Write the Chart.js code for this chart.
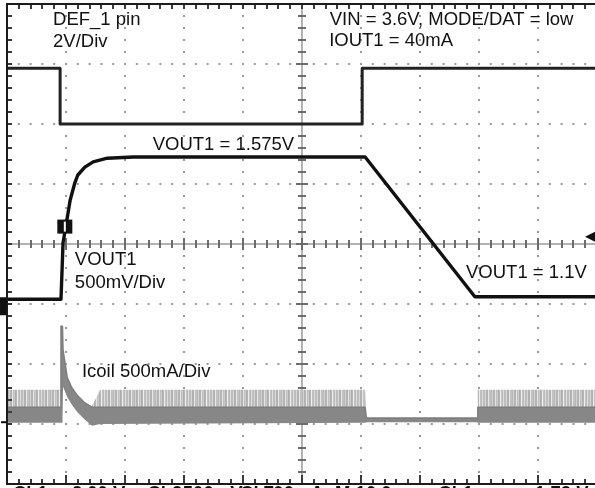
<!DOCTYPE html>
<html>
<head>
<meta charset="utf-8">
<script src="https://cdn.jsdelivr.net/npm/chart.js@4/dist/chart.umd.min.js"></script>
<style>
  html, body { margin: 0; padding: 0; background: #fff; overflow: hidden; }
  #wrap { width: 600px; height: 488px; }
</style>
</head>
<body>
<div id="wrap"><canvas id="scope" width="600" height="488"></canvas></div>
<script>
// Horizontal axis: 10 time divisions. Vertical axis: 8 divisions, 0 at screen centre.

// DEF_1 pin (2 V/div)
const DEF1_T = [0, 0.90, 0.90, 6.02, 6.02, 10];
const DEF1_V = [2.93, 2.93, 2.00, 2.00, 2.93, 2.93];

// VOUT1 (500 mV/div): soft-start up to 1.575 V, then ramp down to 1.1 V
const VOUT1_T = [0, 0.915, 0.95, 1.01, 1.07, 1.15, 1.20, 1.32, 1.46, 1.70, 2.14, 6.07, 7.93, 10];
const VOUT1_V = [-0.92, -0.92, 0.02, 0.37, 0.73, 1.02, 1.15, 1.28, 1.37, 1.43, 1.45, 1.45, -0.88, -0.88];

// Icoil (500 mA/div): switching ripple envelope
const ICOIL_T     = [0, 0.91, 0.915, 0.94, 0.95, 1.02, 1.10, 1.19, 1.32, 1.44, 1.58, 6.07, 6.09, 7.97, 7.98, 10];
const ICOIL_PEAK  = [-2.43, -2.43, -1.37, -1.37, -1.77, -2.22, -2.40, -2.52, -2.65, -2.70, -2.43, -2.43, -2.90, -2.90, -2.43, -2.43];
const ICOIL_BODY  = [-2.72, -2.72, -1.37, -1.37, -1.77, -2.22, -2.40, -2.52, -2.65, -2.72, -2.72, -2.72, -2.90, -2.90, -2.72, -2.72];
const ICOIL_FLOOR = [-2.98, -2.98, -2.98, -2.98, -2.38, -2.55, -2.68, -2.80, -2.93, -3.03, -3.00, -2.98, -2.97, -2.97, -2.98, -2.98];

// Screen annotations
const NOTES = [
  { text: 'DEF_1 pin', x: 0.78, y: 3.65 },
  { text: '2V/Div', x: 0.78, y: 3.28 },
  { text: 'VIN = 3.6V, MODE/DAT = low', x: 5.47, y: 3.65 },
  { text: 'IOUT1 = 40mA', x: 5.46, y: 3.30 },
  { text: 'VOUT1 = 1.575V', x: 2.47, y: 1.57 },
  { text: 'VOUT1', x: 1.15, y: -0.35 },
  { text: '500mV/Div', x: 1.15, y: -0.73 },
  { text: 'VOUT1 = 1.1V', x: 7.78, y: -0.57 },
  { text: 'Icoil 500mA/Div', x: 1.27, y: -2.22 }
];

// Readout row along the lower screen edge
const READOUT = [
  { text: 'Ch1', x: 0.10 }, { text: '2.00 V', x: 1.10 }, { text: 'Ch2', x: 2.38 },
  { text: '500mV', x: 2.98 }, { text: 'Ch4', x: 3.95 }, { text: '500mA', x: 4.34 },
  { text: 'M 10.0ms', x: 5.56 }, { text: 'Ch1', x: 7.31 }, { text: '1.72 V', x: 8.95 }
];

const pts = (t, v) => t.map((x, i) => ({ x, y: v[i] }));

const FONT = '18.5px "Liberation Sans", Arial, Helvetica, sans-serif';

// vertical-stripe fill for the switching ripple band
function rippleFill() {
  const stripes = ['#bdbdbd', '#bdbdbd', '#d8d8d8', '#b2b2b2', '#b2b2b2', '#e8e8e8', '#c2c2c2',
                   '#c2c2c2', '#b8b8b8', '#d2d2d2', '#b4b4b4', '#b4b4b4', '#e4e4e4', '#c0c0c0',
                   '#cccccc', '#adadad', '#b6b6b6', '#eeeeee', '#c4c4c4', '#bababa', '#dedede'];
  const c = document.createElement('canvas');
  c.width = stripes.length; c.height = 1;
  const g = c.getContext('2d');
  stripes.forEach((col, i) => { g.fillStyle = col; g.fillRect(i, 0, 1, 1); });
  return g.createPattern(c, 'repeat');
}

// centre crosshair with its minor ticks (behind the traces)
function drawCrosshair(chart) {
  const { ctx, chartArea: a } = chart;
  const xs = chart.scales.x, ys = chart.scales.y;
  const cx = Math.round(xs.getPixelForValue(5)), cy = Math.round(ys.getPixelForValue(0));
  const L = Math.round(a.left), T = Math.round(a.top), B = Math.round(a.bottom), R = Math.round(a.right);
  ctx.save();
  ctx.fillStyle = '#b2b2b2';
  ctx.fillRect(L, cy - 1, R - L, 2);
  ctx.fillRect(cx - 1, T, 2, B - T);
  ctx.fillStyle = '#6c6c6c';
  for (let i = 1; i < 50; i++) {
    const px = Math.round(xs.getPixelForValue(i / 5));
    const h = i % 5 === 0 ? 6 : 4;
    ctx.fillRect(px - 1, cy - h, 2, 2 * h);
  }
  for (let j = -19; j < 20; j++) {
    const py = Math.round(ys.getPixelForValue(j / 5));
    const w = j % 5 === 0 ? 6 : 4;
    ctx.fillRect(cx - w, py - 1, 2 * w, 2);
  }
  ctx.restore();
}

// screen frame with ruler ticks along its edges
function drawFrame(chart) {
  const { ctx, chartArea: a } = chart;
  const xs = chart.scales.x, ys = chart.scales.y;
  const L = Math.round(a.left), T = Math.round(a.top), B = Math.round(a.bottom), R = Math.round(a.right);
  ctx.save();
  ctx.fillStyle = '#3a3a3a';
  for (let i = 1; i < 51; i++) {
    const px = Math.round(xs.getPixelForValue(i / 5));
    ctx.fillRect(px - 1, T, 2, 5);
    const hb = i % 5 === 0 ? 9 : 5;
    ctx.fillRect(px - 1, B - hb, 2, hb);
  }
  for (let j = -19; j < 20; j++) {
    const py = Math.round(ys.getPixelForValue(j / 5));
    ctx.fillRect(L, py - 1, 5, 2);
  }
  ctx.fillStyle = '#1c1c1c';
  ctx.fillRect(L - 1, T - 1, R - L + 4, 2);
  ctx.fillRect(L - 1, B - 1, R - L + 4, 2);
  ctx.fillRect(L - 1, T - 1, 2, B - T + 2);
  ctx.restore();
}

const scopeDecor = {
  id: 'scopeDecor',
  beforeDatasetsDraw(chart) { drawCrosshair(chart); },
  afterDatasetsDraw(chart) {
    drawFrame(chart);
    const { ctx, chartArea: a } = chart;
    const xs = chart.scales.x, ys = chart.scales.y;
    ctx.save();
    ctx.fillStyle = '#111';
    // trigger position box
    const tx = xs.getPixelForValue(0.98), ty = ys.getPixelForValue(0.29);
    ctx.fillRect(tx - 7.5, ty - 7, 15, 14);
    ctx.fillStyle = '#fff';
    ctx.fillRect(tx - 1, ty - 5, 2, 10);
    ctx.fillStyle = '#111';
    // channel reference marker on the left edge
    const gy = ys.getPixelForValue(-0.92);
    ctx.beginPath();
    ctx.moveTo(0, gy - 2); ctx.lineTo(6, gy - 2); ctx.lineTo(7, gy + 2);
    ctx.lineTo(6, gy + 16); ctx.lineTo(0, gy + 16); ctx.closePath();
    ctx.fill();
    const iy = ys.getPixelForValue(-2.97);
    ctx.fillRect(1, iy - 1, 6, 2);
    // trigger level arrow on the right edge
    const ay = ys.getPixelForValue(0.12);
    ctx.beginPath();
    ctx.moveTo(585, ay); ctx.lineTo(595, ay - 5); ctx.lineTo(595, ay + 5); ctx.closePath();
    ctx.fill();
    // annotations
    ctx.font = FONT;
    ctx.textBaseline = 'alphabetic';
    ctx.textAlign = 'left';
    NOTES.forEach(n => ctx.fillText(n.text, xs.getPixelForValue(n.x), ys.getPixelForValue(n.y)));
    ctx.font = 'bold ' + FONT;
    READOUT.forEach(r => ctx.fillText(r.text, xs.getPixelForValue(r.x), a.bottom + 15));
    ctx.restore();
  }
};

new Chart(document.getElementById('scope'), {
  type: 'line',
  data: {
    datasets: [
      { label: 'Icoil floor', data: pts(ICOIL_T, ICOIL_FLOOR), borderWidth: 0, borderColor: '#858585', pointRadius: 0, fill: false },
      { label: 'Icoil body', data: pts(ICOIL_T, ICOIL_BODY), borderWidth: 1.5, borderColor: '#7e7e7e', backgroundColor: '#878787', pointRadius: 0, fill: 0 },
      { label: 'Icoil ripple', data: pts(ICOIL_T, ICOIL_PEAK), borderWidth: 0, borderColor: '#c4c4c4', backgroundColor: rippleFill(), pointRadius: 0, fill: 1 },
      { label: 'VOUT1', data: pts(VOUT1_T, VOUT1_V), borderWidth: 3.4, borderColor: '#111', pointRadius: 0, fill: false },
      { label: 'DEF_1', data: pts(DEF1_T, DEF1_V), borderWidth: 3, borderColor: '#222', pointRadius: 0, fill: false }
    ]
  },
  options: {
    responsive: false,
    devicePixelRatio: 1,
    animation: false,
    events: [],
    layout: { padding: { left: 7, top: 4, right: 3, bottom: 4 } },
    elements: { line: { tension: 0, borderJoinStyle: 'round', borderCapStyle: 'round' } },
    plugins: { legend: { display: false }, tooltip: { enabled: false } },
    scales: {
      x: {
        type: 'linear', min: 0, max: 10,
        ticks: { stepSize: 1, display: false },
        grid: { color: '#9a9a9a', lineWidth: 2, drawTicks: false },
        border: { display: false, dash: [2, 10], dashOffset: 1 },
        afterFit: s => { s.height = 0; }
      },
      y: {
        type: 'linear', min: -4, max: 4,
        ticks: { stepSize: 1, display: false },
        grid: { color: '#9a9a9a', lineWidth: 2, drawTicks: false },
        border: { display: false, dash: [2, 9.8], dashOffset: 1 },
        afterFit: s => { s.width = 0; }
      }
    }
  },
  plugins: [scopeDecor]
});
</script>
</body>
</html>
